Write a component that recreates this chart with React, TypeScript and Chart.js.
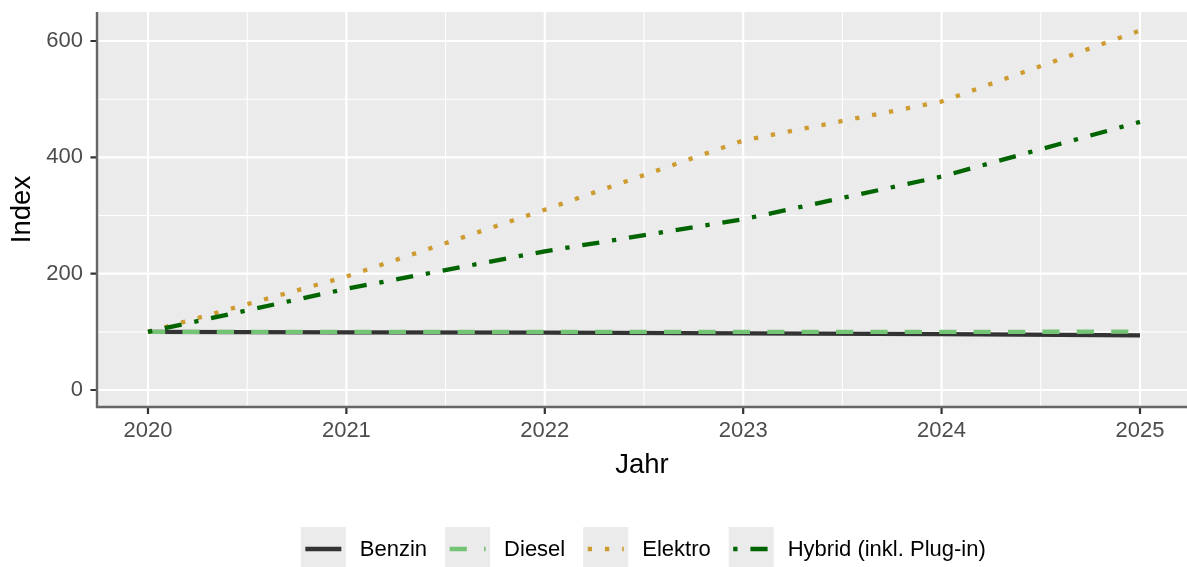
import React, { useEffect, useRef } from "react";
import { Chart, registerables } from "chart.js";

Chart.register(...registerables);

// ---- data ----
const years = [2020, 2021, 2022, 2023, 2024, 2025];
const seriesNames = ["Benzin", "Diesel", "Elektro", "Hybrid (inkl. Plug-in)"];
const benzin = [100, 99, 98.5, 97.5, 96, 94];
const diesel = [100, 100, 100, 100, 100, 100.3];
const elektro = [100, 195, 310, 429, 496, 618];
const hybrid = [100, 174, 238.5, 293.5, 367, 461];

const xTicks = [2020, 2021, 2022, 2023, 2024, 2025];
const xMinorTicks = [2020.5, 2021.5, 2022.5, 2023.5, 2024.5];
const yTicks = [0, 200, 400, 600];
const yMinorTicks = [100, 300, 500];

const xTitle = "Jahr";
const yTitle = "Index";

// ---- styles ----
const colors = ["#333333", "#74C476", "#CD9B2F", "#006400"];
const LW = 4.3;
const dashes: number[][] = [
  [],
  [4 * LW, 4 * LW],
  [1 * LW, 3 * LW],
  [1 * LW, 3 * LW, 4 * LW, 3 * LW],
];
const FONT = "'Liberation Sans', Arial, Helvetica, sans-serif";
const W = 1187;
const H = 567;

const ggPlugin = {
  id: "ggPanel",
  beforeDraw(chart: any) {
    const { ctx, chartArea: a, scales } = chart;
    const x = scales.x;
    const y = scales.y;
    ctx.save();
    ctx.fillStyle = "#EBEBEB";
    ctx.fillRect(a.left, a.top, a.right - a.left, a.bottom - a.top);
    ctx.strokeStyle = "#FFFFFF";
    ctx.lineWidth = 1.1;
    ctx.beginPath();
    for (const v of yMinorTicks) {
      const p = y.getPixelForValue(v);
      ctx.moveTo(a.left, p);
      ctx.lineTo(a.right, p);
    }
    for (const v of xMinorTicks) {
      const p = x.getPixelForValue(v);
      ctx.moveTo(p, a.top);
      ctx.lineTo(p, a.bottom);
    }
    ctx.stroke();
    ctx.lineWidth = 2.2;
    ctx.beginPath();
    for (const v of yTicks) {
      const p = y.getPixelForValue(v);
      ctx.moveTo(a.left, p);
      ctx.lineTo(a.right, p);
    }
    for (const v of xTicks) {
      const p = x.getPixelForValue(v);
      ctx.moveTo(p, a.top);
      ctx.lineTo(p, a.bottom);
    }
    ctx.stroke();
    ctx.restore();
  },
  afterDatasetsDraw(chart: any) {
    const { ctx, chartArea: a, scales } = chart;
    const x = scales.x;
    const y = scales.y;
    ctx.save();
    // tick marks
    ctx.strokeStyle = "#333333";
    ctx.lineWidth = 2.2;
    ctx.beginPath();
    for (const v of yTicks) {
      const p = y.getPixelForValue(v);
      ctx.moveTo(a.left - 6.5, p);
      ctx.lineTo(a.left, p);
    }
    for (const v of xTicks) {
      const p = x.getPixelForValue(v);
      ctx.moveTo(p, a.bottom);
      ctx.lineTo(p, a.bottom + 7);
    }
    ctx.stroke();
    // axis lines
    ctx.strokeStyle = "#666666";
    ctx.lineWidth = 2.4;
    ctx.beginPath();
    ctx.moveTo(a.left, a.top);
    ctx.lineTo(a.left, a.bottom);
    ctx.lineTo(a.right, a.bottom);
    ctx.stroke();
    ctx.restore();
  },
  afterDraw(chart: any) {
    const { ctx, chartArea: a } = chart;
    ctx.save();
    ctx.font = `22px ${FONT}`;
    const boxW = 45;
    const boxH = 44;
    const gapText = 14;
    const gapNext = 18;
    const widths = seriesNames.map((n) => ctx.measureText(n).width);
    let total = 0;
    widths.forEach((w, i) => {
      total += boxW + gapText + w + (i < widths.length - 1 ? gapNext : 0);
    });
    const center = (a.left + 1189.6) / 2;
    let bx = center - total / 2;
    const cy = 549;
    seriesNames.forEach((name, i) => {
      ctx.fillStyle = "#EBEBEB";
      ctx.fillRect(bx, cy - boxH / 2, boxW, boxH);
      ctx.save();
      ctx.beginPath();
      ctx.rect(bx, cy - boxH / 2, boxW, boxH);
      ctx.clip();
      ctx.strokeStyle = colors[i];
      ctx.lineWidth = LW;
      ctx.lineCap = "butt";
      ctx.setLineDash(dashes[i]);
      ctx.beginPath();
      ctx.moveTo(bx + 4.5, cy);
      ctx.lineTo(bx + 40.5, cy);
      ctx.stroke();
      ctx.restore();
      ctx.fillStyle = "#000000";
      ctx.textBaseline = "middle";
      ctx.textAlign = "left";
      ctx.fillText(name, bx + boxW + gapText, cy + 1);
      bx += boxW + gapText + widths[i] + gapNext;
    });
    ctx.restore();
  },
};

export default function App() {
  const ref = useRef<HTMLCanvasElement>(null);
  useEffect(() => {
    if (!ref.current) return;
    const seriesData = [benzin, diesel, elektro, hybrid];
    const chart = new Chart(ref.current, {
      type: "line",
      data: {
        datasets: seriesNames.map((name, i) => ({
          label: name,
          data: years.map((yr, j) => ({ x: yr, y: seriesData[i][j] })),
          borderColor: colors[i],
          backgroundColor: colors[i],
          borderWidth: LW,
          borderDash: dashes[i],
          borderCapStyle: "butt" as const,
          borderJoinStyle: "round" as const,
          pointRadius: 0,
          tension: 0,
          fill: false,
          order: 3 - i,
        })),
      },
      options: {
        responsive: false,
        animation: false,
        devicePixelRatio: 1,
        layout: { padding: { top: 12, right: 0, bottom: 0, left: 0 } },
        plugins: { legend: { display: false }, tooltip: { enabled: false } },
        scales: {
          x: {
            type: "linear",
            min: 2019.743,
            max: 2025.237,
            grid: { display: false, drawTicks: false, tickLength: 0 },
            border: { display: false },
            ticks: {
              font: { family: FONT, size: 22 },
              color: "#4D4D4D",
              padding: 11,
              callback: (v: any) => String(v),
            },
            afterBuildTicks: (s: any) => {
              s.ticks = xTicks.map((v) => ({ value: v }));
            },
            afterFit: (s: any) => {
              s.height = 160;
              s.paddingLeft = 0;
              s.paddingRight = 0;
            },
            title: {
              display: true,
              text: xTitle,
              color: "#000000",
              font: { family: FONT, size: 27.5 },
              padding: { top: 0, bottom: 85.5 },
            },
          },
          y: {
            type: "linear",
            min: -29.2,
            max: 649.9,
            grid: { display: false, drawTicks: false, tickLength: 0 },
            border: { display: false },
            ticks: {
              font: { family: FONT, size: 22 },
              color: "#4D4D4D",
              padding: 14,
              callback: (v: any) => String(v),
            },
            afterBuildTicks: (s: any) => {
              s.ticks = yTicks.map((v) => ({ value: v }));
            },
            afterFit: (s: any) => {
              s.width = 97;
              s.paddingTop = 0;
              s.paddingBottom = 0;
            },
            title: {
              display: true,
              text: yTitle,
              color: "#000000",
              font: { family: FONT, size: 27.5 },
              padding: { top: 5.5, bottom: 0 },
            },
          },
        },
      },
      plugins: [ggPlugin],
    });
    return () => chart.destroy();
  }, []);
  return (
    <div style={{ position: "absolute", left: 0, top: 0, width: W, height: H, background: "#FFFFFF" }}>
      <canvas ref={ref} width={W} height={H} style={{ display: "block", width: W, height: H }} />
    </div>
  );
}
